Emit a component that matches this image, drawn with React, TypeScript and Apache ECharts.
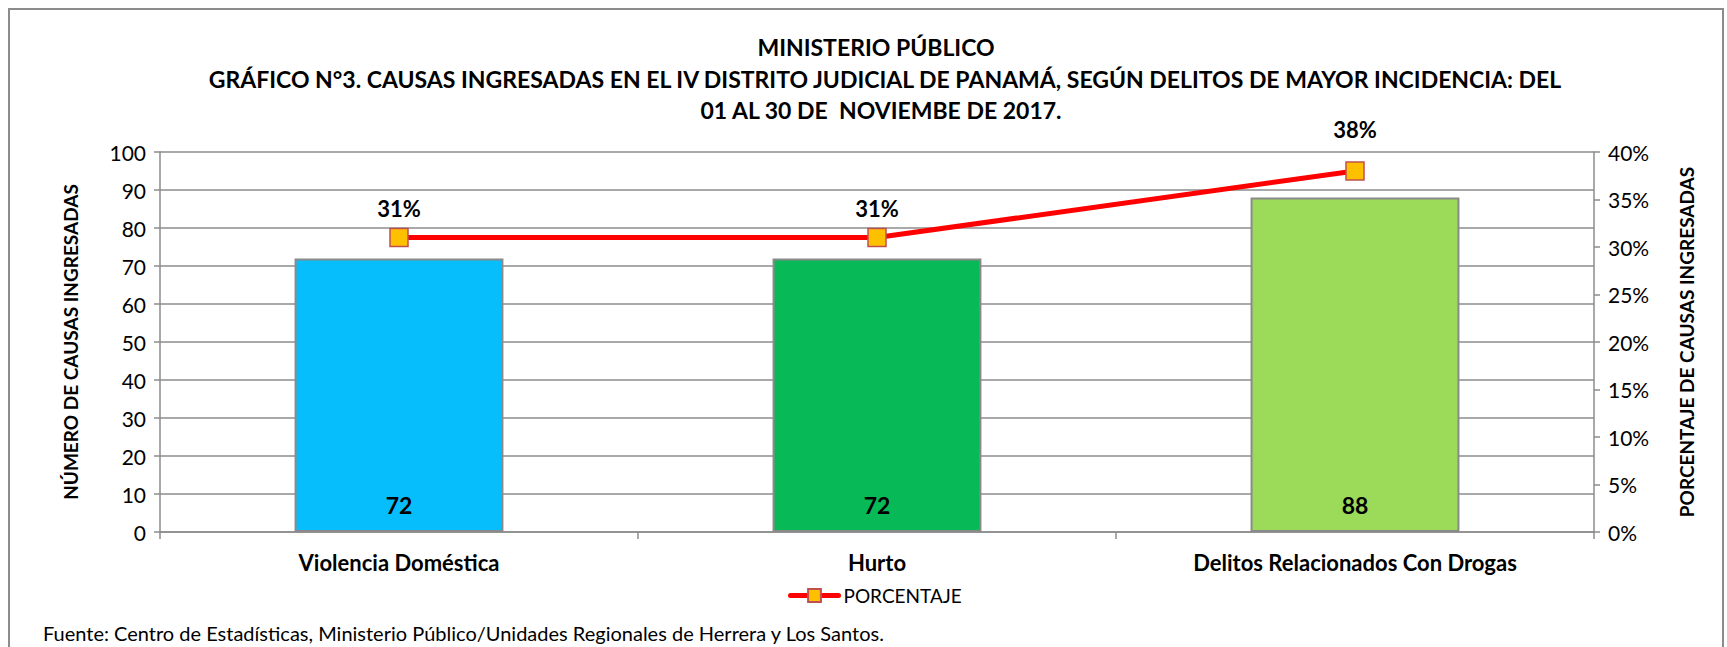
import React, { useEffect, useRef } from "react";
import * as echarts from "echarts";

const categories = ["Violencia Doméstica", "Hurto", "Delitos Relacionados Con Drogas"];
const causas = [72, 72, 88];
const porcentaje = [31, 31, 38];
const barColors = ["#06BEFB", "#07BA57", "#9CDA5A"];
const titleLines = [
  "MINISTERIO PÚBLICO",
  "GRÁFICO N°3. CAUSAS INGRESADAS EN EL IV DISTRITO JUDICIAL DE PANAMÁ, SEGÚN DELITOS DE MAYOR INCIDENCIA: DEL",
  "01 AL 30 DE  NOVIEMBE DE 2017.",
];
const footer = "Fuente: Centro de Estadísticas, Ministerio Público/Unidades Regionales de Herrera y Los Santos.";
const leftAxisName = "NÚMERO DE CAUSAS INGRESADAS";
const rightAxisName = "PORCENTAJE DE CAUSAS INGRESADAS";
const seriesName = "PORCENTAJE";

const FONT = "Lato, 'Open Sans', sans-serif";

export default function App() {
  const ref = useRef<HTMLDivElement>(null);
  useEffect(() => {
    document.body.style.margin = "0";
    const chart = echarts.init(ref.current!, null, { renderer: "svg" });
    const titleY = [47, 79, 110];
    const titleX = [876, 885, 881];
    chart.setOption({
      animation: false,
      textStyle: { fontFamily: FONT },
      graphic: [
        {
          type: "rect",
          shape: { x: 9, y: 9, width: 1714, height: 700 },
          style: { fill: "none", stroke: "#8C8C8C", lineWidth: 2 },
          silent: true,
        },
        ...titleLines.map((t, i) => ({
          type: "text",
          x: titleX[i],
          y: titleY[i],
          style: {
            text: t,
            fill: "#000",
            font: `bold 23px ${FONT}`,
            textAlign: "center",
            textVerticalAlign: "middle",
          },
        })),
        {
          type: "text",
          x: 43,
          y: 633,
          style: {
            text: footer,
            fill: "#000",
            font: `20px ${FONT}`,
            textAlign: "left",
            textVerticalAlign: "middle",
          },
        },
      ],
      legend: {
        data: [seriesName],
        left: 783,
        top: 581,
        itemWidth: 48,
        itemHeight: 16,
        itemGap: 4,
        lineStyle: { width: 5, cap: "round", color: "#FF0000" },
        textStyle: { fontSize: 19, color: "#000", fontFamily: FONT },
      },
      grid: { left: 160, right: 133, top: 152, bottom: 115 },
      xAxis: {
        type: "category",
        data: categories,
        axisLine: { lineStyle: { color: "#8C8C8C", width: 1.5 } },
        axisTick: { show: true, length: 7, lineStyle: { color: "#8C8C8C", width: 1.5 } },
        axisLabel: { fontSize: 22, fontWeight: "bold", color: "#000", margin: 19, fontFamily: FONT },
      },
      yAxis: [
        {
          type: "value",
          min: 0,
          max: 100,
          interval: 10,
          name: leftAxisName,
          nameLocation: "middle",
          nameRotate: 90,
          nameGap: 80,
          nameTextStyle: { fontSize: 19, fontWeight: "bold", color: "#000", fontFamily: FONT },
          axisLine: { show: true, lineStyle: { color: "#8C8C8C", width: 1.5 } },
          axisTick: { show: true, length: 6, lineStyle: { color: "#8C8C8C", width: 1.5 } },
          axisLabel: { fontSize: 21, color: "#000", margin: 14, fontFamily: FONT },
          splitLine: { show: true, lineStyle: { color: "#8C8C8C", width: 1.5 } },
        },
        {
          type: "value",
          min: 0,
          max: 40,
          interval: 5,
          position: "right",
          name: rightAxisName,
          nameLocation: "middle",
          nameRotate: 90,
          nameGap: 83,
          nameTextStyle: { fontSize: 19, fontWeight: "bold", color: "#000", fontFamily: FONT },
          axisLine: { show: true, lineStyle: { color: "#8C8C8C", width: 1.5 } },
          axisTick: { show: true, length: 6, lineStyle: { color: "#8C8C8C", width: 1.5 } },
          axisLabel: { fontSize: 21, color: "#000", margin: 14, formatter: "{value}%", fontFamily: FONT },
          splitLine: { show: false },
        },
      ],
      series: [
        {
          type: "bar",
          yAxisIndex: 0,
          barWidth: "43.7%",
          data: causas.map((v, i) => ({
            value: v,
            itemStyle: { color: barColors[i], borderColor: "#8A8A8A", borderWidth: 2 },
          })),
          label: {
            show: true,
            position: "insideBottom",
            distance: 16,
            fontSize: 23,
            fontWeight: "bold",
            color: "#000",
            fontFamily: FONT,
          },
        },
        {
          name: seriesName,
          type: "line",
          yAxisIndex: 1,
          symbol: "rect",
          symbolSize: 18,
          z: 5,
          lineStyle: { color: "#FF0000", width: 5 },
          itemStyle: { color: "#FFC000", borderColor: "#C0504D", borderWidth: 1.5 },
          data: porcentaje.map((v, i) => ({
            value: v,
            label: { distance: i === 2 ? 21 : 8 },
          })),
          label: {
            show: true,
            position: "top",
            formatter: "{c}%",
            fontSize: 22,
            fontWeight: "bold",
            color: "#000",
            fontFamily: FONT,
          },
        },
      ],
    });
    return () => chart.dispose();
  }, []);
  return <div ref={ref} style={{ width: 1727, height: 647 }} />;
}
